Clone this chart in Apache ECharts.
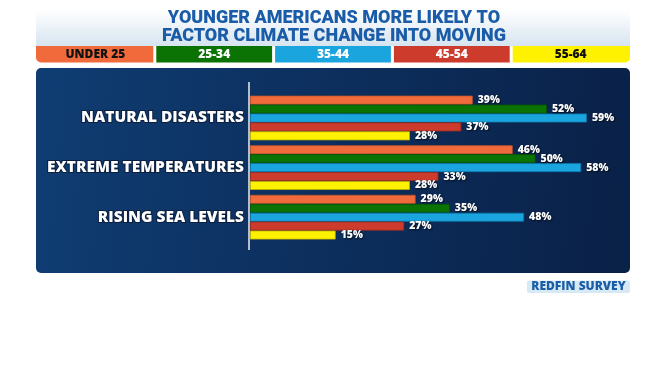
<!DOCTYPE html>
<html>
<head>
<meta charset="utf-8">
<script src="https://cdn.jsdelivr.net/npm/echarts@6/dist/echarts.min.js"></script>
<style>
  html, body { margin: 0; padding: 0; background: #ffffff; }
  #main { width: 668px; height: 376px; }
</style>
</head>
<body>
<div id="main"></div>
<script>
// data (percent of respondents)
let categories = ['NATURAL DISASTERS', 'EXTREME TEMPERATURES', 'RISING SEA LEVELS'];
let ageGroups = ['UNDER 25', '25-34', '35-44', '45-54', '55-64'];
let under25 = [39, 46, 29];
let age25to34 = [52, 50, 35];
let age35to44 = [59, 58, 48];
let age45to54 = [37, 33, 27];
let age55to64 = [28, 28, 15];
let titleLines = ['YOUNGER AMERICANS MORE LIKELY TO', 'FACTOR CLIMATE CHANGE INTO MOVING'];
let sourceText = 'REDFIN SURVEY';

let groupValues = [under25, age25to34, age35to44, age45to54, age55to64];
let barColors = ['#f06a3c', '#0a7304', '#1ba5de', '#cc3b2b', '#fff200'];
let borderColors = ['#c8542a', '#065502', '#0d78ad', '#9e2a1e', '#c2b400'];
let keyTextColors = ['#111111', '#ffffff', '#ffffff', '#ffffff', '#111111'];

let fontMain = '"Open Sans", Roboto, sans-serif';

// header band, key strip, panel
let graphics = [
    {
        type: 'rect', z: 0,
        shape: { x: 36, y: 10, width: 594, height: 36 },
        style: {
            fill: new echarts.graphic.LinearGradient(0, 0, 0, 1, [
                { offset: 0, color: '#ffffff' },
                { offset: 1, color: '#d6e4f0' }
            ])
        }
    },
    {
        type: 'rect', z: 0,
        shape: { x: 36, y: 68, width: 594, height: 205, r: 5 },
        style: {
            fill: new echarts.graphic.LinearGradient(0, 0, 1, 0.3, [
                { offset: 0, color: '#0f3d73' },
                { offset: 1, color: '#0a2148' }
            ])
        }
    },
    {
        type: 'line', z: 5,
        shape: { x1: 249, y1: 82, x2: 249, y2: 250 },
        style: { stroke: '#e8eef5', lineWidth: 1.5 }
    },
    {
        type: 'rect', z: 0,
        shape: { x: 527, y: 280.5, width: 103, height: 12.5, r: 2 },
        style: { fill: '#d8e9f6' }
    },
    {
        type: 'text', z: 1, x: 578.5, y: 287,
        style: {
            text: sourceText, fill: '#1b5ea8', font: '800 12px ' + fontMain,
            textAlign: 'center', textVerticalAlign: 'middle'
        }
    }
];

titleLines.forEach(function (t, i) {
    graphics.push({
        type: 'text', z: 1, x: 334, y: 18.5 + i * 18,
        style: {
            text: t, fill: '#1a5ca8', font: '900 18px Roboto, sans-serif',
            textAlign: 'center', textVerticalAlign: 'middle'
        }
    });
});

let keyW = 594 / ageGroups.length;
ageGroups.forEach(function (name, i) {
    let x0 = 36 + i * keyW;
    graphics.push({
        type: 'rect', z: 1,
        shape: {
            x: x0 + (i === 0 ? 0 : 1.5), y: 46,
            width: keyW - (i === 0 || i === ageGroups.length - 1 ? 1.5 : 3), height: 16.5,
            r: i === 0 ? [0, 0, 0, 5] : (i === ageGroups.length - 1 ? [0, 0, 5, 0] : 0)
        },
        style: { fill: barColors[i] }
    });
    graphics.push({
        type: 'text', z: 2, x: x0 + keyW / 2, y: 54.5,
        style: {
            text: name, fill: keyTextColors[i], font: '800 12px ' + fontMain,
            textAlign: 'center', textVerticalAlign: 'middle'
        }
    });
});

let series = ageGroups.map(function (name, i) {
    return {
        name: name,
        type: 'bar',
        data: groupValues[i],
        barGap: '0%',
        barCategoryGap: '10%',
        itemStyle: { color: barColors[i], borderColor: borderColors[i], borderWidth: 0.8 },
        label: {
            show: true,
            position: 'right',
            distance: 5,
            formatter: '{c}%',
            color: '#ffffff',
            fontFamily: fontMain,
            fontWeight: 800,
            fontSize: 10.5,
            textShadowColor: 'rgba(0,0,0,0.7)',
            textShadowBlur: 2,
            textShadowOffsetX: 1,
            textShadowOffsetY: 1
        }
    };
});

let option = {
    animation: false,
    backgroundColor: '#ffffff',
    graphic: graphics,
    grid: { left: 250, right: 75.4, top: 93.2, bottom: 134 },
    xAxis: {
        type: 'value',
        min: 0,
        max: 60,
        show: false
    },
    yAxis: {
        type: 'category',
        data: categories,
        inverse: true,
        axisLine: { show: false },
        axisTick: { show: false },
        axisLabel: {
            margin: 6,
            color: '#ffffff',
            fontFamily: fontMain,
            fontWeight: 800,
            fontSize: 15.5,
            textBorderColor: '#0a1f40',
            textBorderWidth: 2
        }
    },
    series: series
};

let myChart = echarts.init(document.getElementById('main'));
myChart.setOption(option);

window.addEventListener('resize', function () {
    myChart.resize();
});
</script>
</body>
</html>
